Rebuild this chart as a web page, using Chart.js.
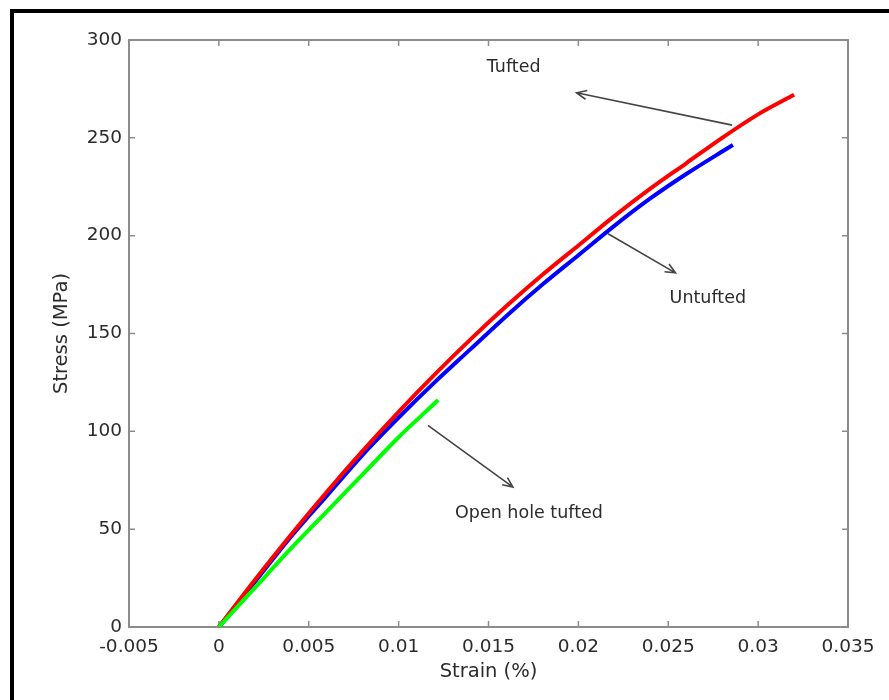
<!DOCTYPE html>
<html>
<head>
<meta charset="utf-8">
<script src="https://cdn.jsdelivr.net/npm/chart.js@4/dist/chart.umd.min.js"></script>
<style>
    html, body { margin: 0; padding: 0; background: #fff; overflow: hidden; }
    #wrap { position: relative; width: 889px; height: 700px; }
</style>
</head>
<body>
<div id="wrap"><canvas id="stressStrain"></canvas></div>
<script>
// stress-strain curves, strain as a fraction, stress in MPa
const tuftedStrain = [0, 0.002, 0.004, 0.006, 0.008, 0.010, 0.012, 0.014, 0.016, 0.018, 0.020, 0.022, 0.024, 0.026, 0.028, 0.030, 0.032];
const tuftedStress = [0, 24, 47, 69, 90, 110, 129, 147, 164, 180, 195, 210, 224, 237, 250, 262, 272];

const untuftedStrain = [0, 0.002, 0.004, 0.006, 0.008, 0.010, 0.012, 0.014, 0.016, 0.018, 0.020, 0.022, 0.024, 0.026, 0.028, 0.0286];
const untuftedStress = [0, 23, 46, 67, 88, 107, 125, 142, 159, 175, 190, 205, 219, 231.5, 243, 246.3];

const openHoleStrain = [0, 0.002, 0.004, 0.006, 0.008, 0.010, 0.0122];
const openHoleStress = [0, 20, 40, 59, 78, 97, 116];

const xTicks = [-0.005, 0, 0.005, 0.01, 0.015, 0.02, 0.025, 0.03, 0.035];
const yTicks = [0, 50, 100, 150, 200, 250, 300];

// callouts: label position, arrow tail and arrow tip, all in data units
const calloutText = ['Tufted', 'Untufted', 'Open hole tufted'];
const calloutLabelAt = [[0.0164, 286], [0.0272, 168], [0.01725, 58]];
const calloutTail = [[0.02855, 256.5], [0.02165, 201], [0.01163, 103]];
const calloutTip = [[0.0199, 273], [0.0254, 181], [0.01636, 71.5]];

const FONT = 'DejaVu Sans';
const AXIS_GREY = '#8c8c8c';
const TEXT_COLOR = '#2b2b2b';

function toPoints(xs, ys) {
    let pts = [];
    for (let i = 0; i < xs.length; i++) {
        pts.push({x: xs[i], y: ys[i]});
    }
    return pts;
}

function drawArrow(c, x1, y1, x2, y2) {
    let ang = Math.atan2(y2 - y1, x2 - x1);
    let head = 11;
    c.beginPath();
    c.moveTo(x1, y1);
    c.lineTo(x2, y2);
    c.moveTo(x2 - head * Math.cos(ang - 0.42), y2 - head * Math.sin(ang - 0.42));
    c.lineTo(x2, y2);
    c.lineTo(x2 - head * Math.cos(ang + 0.42), y2 - head * Math.sin(ang + 0.42));
    c.stroke();
}

const framePlugin = {
    id: 'frame',
    beforeDraw(chart) {
        let c = chart.ctx;
        c.save();
        c.fillStyle = '#fff';
        c.fillRect(0, 0, chart.width, chart.height);
        // heavy black border on the top and left edge
        c.fillStyle = '#000';
        c.fillRect(10, 9, chart.width - 10, 4);
        c.fillRect(10, 9, 4, chart.height - 9);
        c.restore();
    },
    beforeDatasetsDraw(chart) {
        let c = chart.ctx;
        let a = chart.chartArea;
        let xs = chart.scales.x;
        let ys = chart.scales.y;
        let tick = 6;
        c.save();
        c.strokeStyle = AXIS_GREY;
        c.lineWidth = 2;
        c.strokeRect(a.left, a.top, a.right - a.left, a.bottom - a.top);
        c.lineWidth = 1.5;
        c.beginPath();
        xTicks.forEach(v => {
            let px = xs.getPixelForValue(v);
            c.moveTo(px, a.bottom); c.lineTo(px, a.bottom - tick);
            c.moveTo(px, a.top); c.lineTo(px, a.top + tick);
        });
        yTicks.forEach(v => {
            let py = ys.getPixelForValue(v);
            c.moveTo(a.left, py); c.lineTo(a.left + tick, py);
            c.moveTo(a.right, py); c.lineTo(a.right - tick, py);
        });
        c.stroke();
        c.restore();
    },
    afterDatasetsDraw(chart) {
        let c = chart.ctx;
        let xs = chart.scales.x;
        let ys = chart.scales.y;
        c.save();
        c.strokeStyle = '#444';
        c.lineWidth = 1.6;
        c.fillStyle = TEXT_COLOR;
        c.font = '17.5px "' + FONT + '"';
        c.textAlign = 'center';
        c.textBaseline = 'middle';
        for (let i = 0; i < calloutText.length; i++) {
            drawArrow(c,
                xs.getPixelForValue(calloutTail[i][0]), ys.getPixelForValue(calloutTail[i][1]),
                xs.getPixelForValue(calloutTip[i][0]), ys.getPixelForValue(calloutTip[i][1]));
            c.fillText(calloutText[i],
                xs.getPixelForValue(calloutLabelAt[i][0]), ys.getPixelForValue(calloutLabelAt[i][1]));
        }
        c.restore();
    }
};

let ctx = document.getElementById('stressStrain').getContext('2d');
let chart = new Chart(ctx, {
    type: 'line',
    data: {
        datasets: [
            {
                label: 'Open hole tufted',
                borderColor: 'rgb(0,255,0)',
                backgroundColor: 'transparent',
                data: toPoints(openHoleStrain, openHoleStress),
                borderWidth: 4,
                pointRadius: 0,
                tension: 0.3
            },
            {
                label: 'Tufted',
                borderColor: 'rgb(255,0,0)',
                backgroundColor: 'transparent',
                data: toPoints(tuftedStrain, tuftedStress),
                borderWidth: 4,
                pointRadius: 0,
                tension: 0.3
            },
            {
                label: 'Untufted',
                borderColor: 'rgb(0,0,255)',
                backgroundColor: 'transparent',
                data: toPoints(untuftedStrain, untuftedStress),
                borderWidth: 4,
                pointRadius: 0,
                tension: 0.3
            }
        ]
    },
    options: {
        responsive: true,
        maintainAspectRatio: false,
        animation: false,
        events: [],
        layout: {padding: {left: 0, top: 40, right: 41, bottom: 0}},
        plugins: {
            legend: {display: false},
            tooltip: {enabled: false}
        },
        scales: {
            x: {
                type: 'linear',
                min: -0.005,
                max: 0.035,
                grid: {display: false, drawTicks: false},
                border: {display: false},
                afterBuildTicks: s => { s.ticks = xTicks.map(v => ({value: v})); },
                afterFit: s => { s.height = 73; },
                ticks: {
                    autoSkip: false,
                    maxRotation: 0,
                    padding: 9,
                    color: TEXT_COLOR,
                    font: {family: FONT, size: 18.5},
                    callback: v => String(v)
                },
                title: {
                    display: true,
                    text: 'Strain (%)',
                    color: TEXT_COLOR,
                    font: {family: FONT, size: 19.5},
                    padding: {top: 0, bottom: 16}
                }
            },
            y: {
                type: 'linear',
                min: 0,
                max: 300,
                grid: {display: false, drawTicks: false},
                border: {display: false},
                afterBuildTicks: s => { s.ticks = yTicks.map(v => ({value: v})); },
                afterFit: s => { s.width = 129; },
                ticks: {
                    padding: 7,
                    color: TEXT_COLOR,
                    font: {family: FONT, size: 18.5},
                    callback: v => String(v)
                },
                title: {
                    display: true,
                    text: 'Stress (MPa)',
                    color: TEXT_COLOR,
                    font: {family: FONT, size: 19.5},
                    padding: {top: 50, bottom: 0}
                }
            }
        }
    },
    plugins: [framePlugin]
});
</script>
</body>
</html>
